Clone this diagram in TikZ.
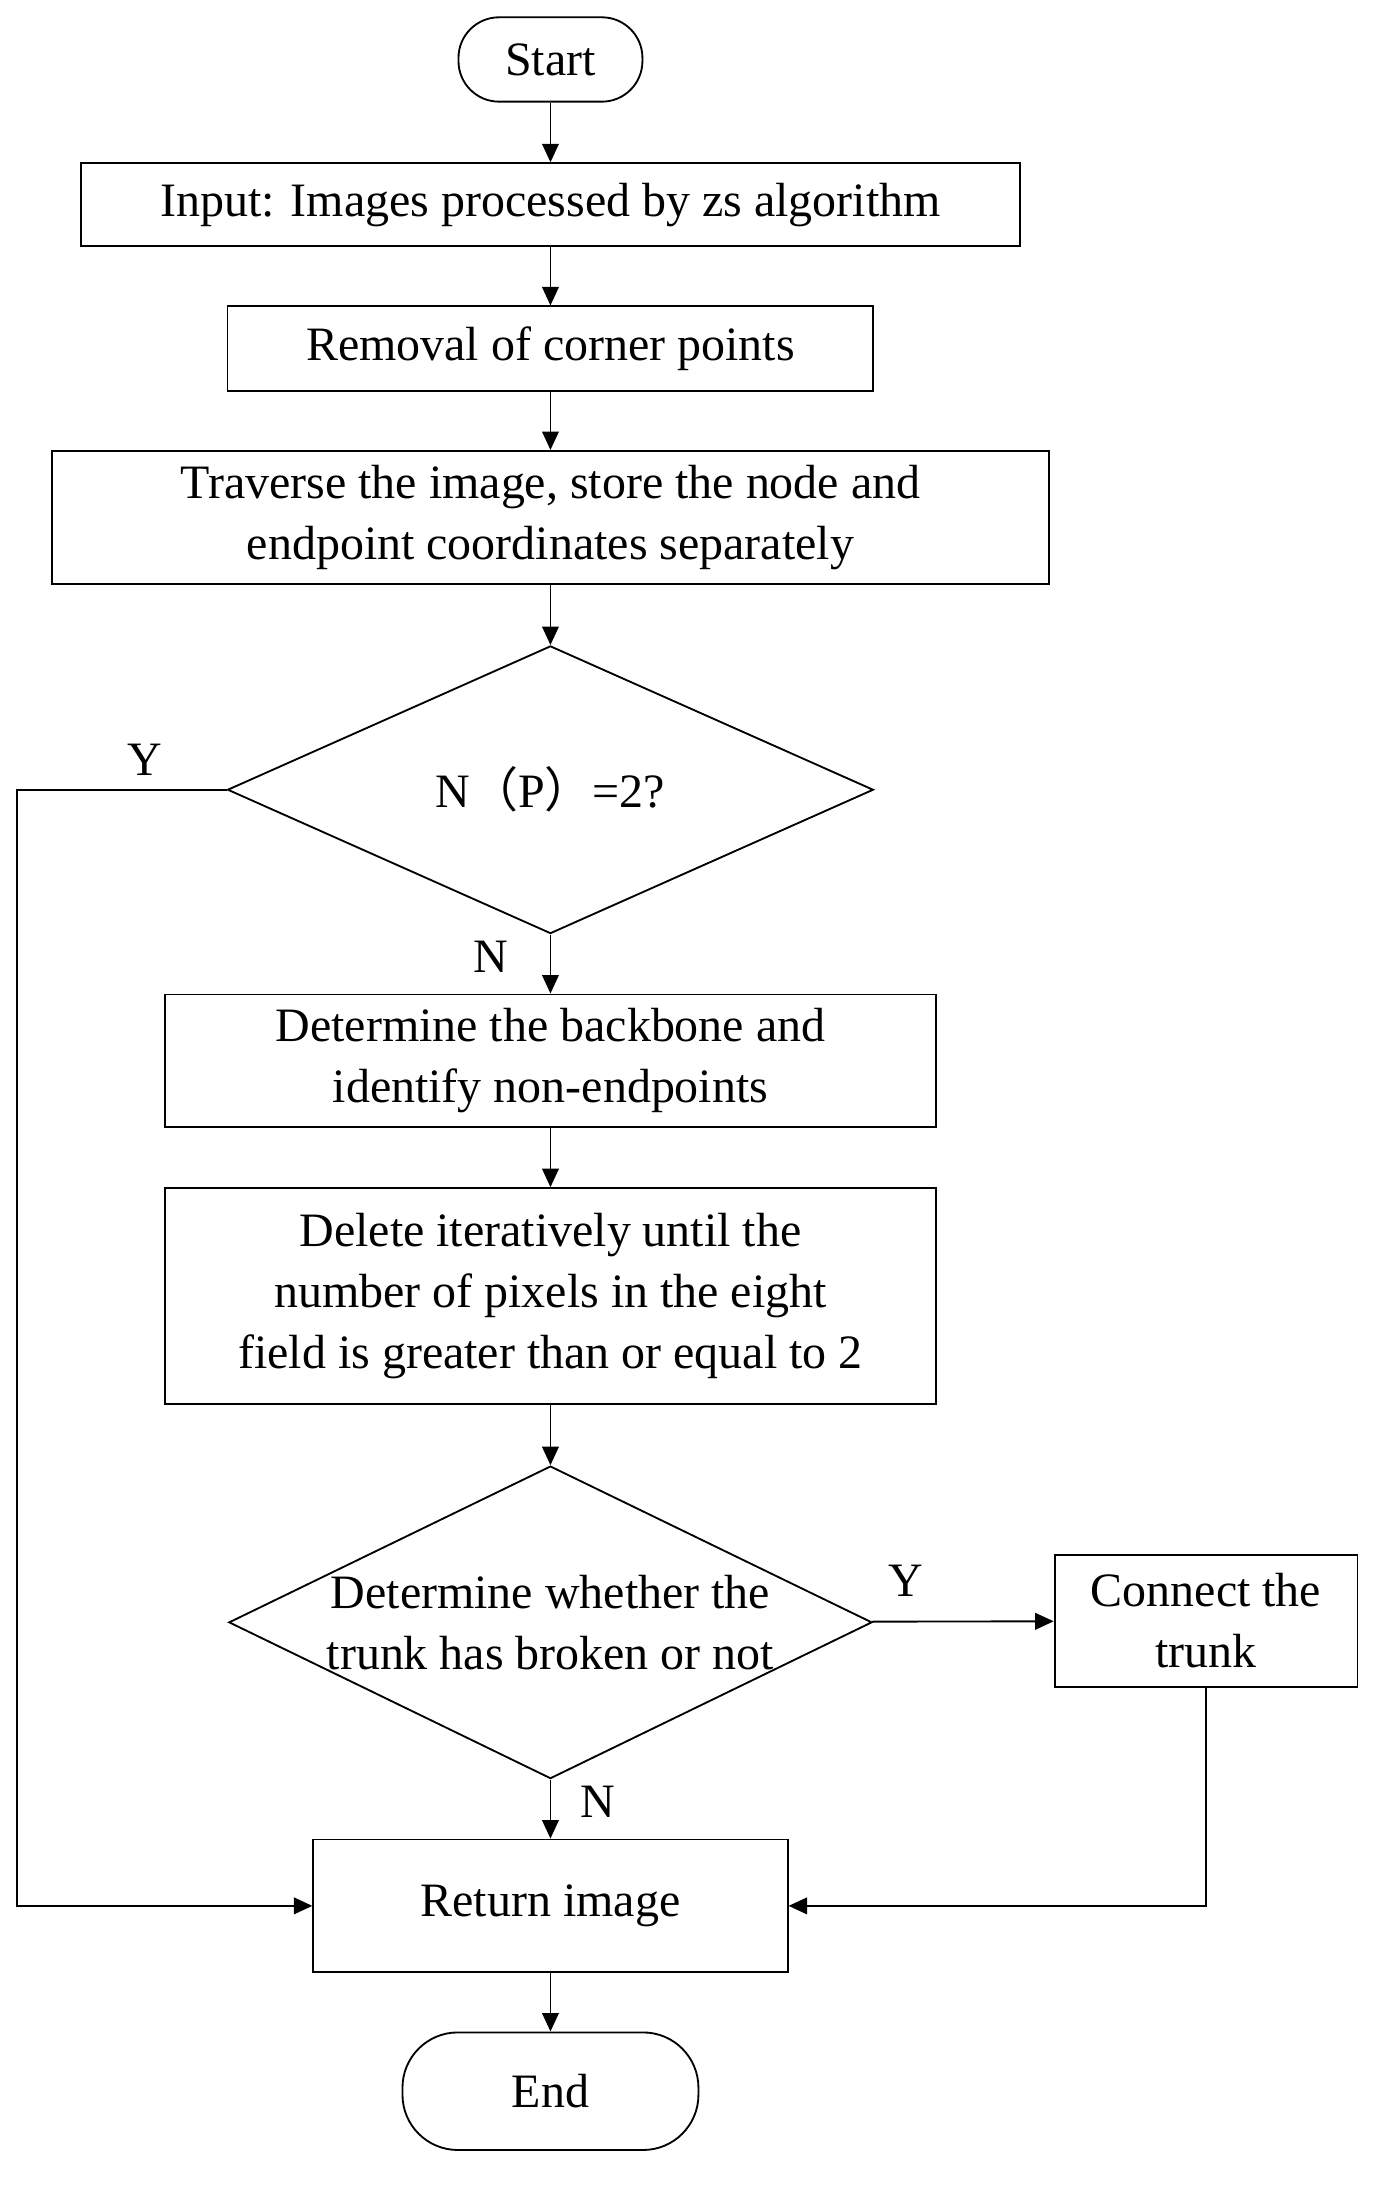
\documentclass[tikz,border=0pt]{standalone}
\usepackage{fontspec}
\setmainfont{Liberation Serif}
\newfontfamily\cjkf{Noto Sans CJK SC}
\usetikzlibrary{shapes.geometric,arrows.meta}
\begin{document}
\begin{tikzpicture}[x=0.75pt,y=-0.75pt,
  every node/.style={font=\fontsize{26}{33}\selectfont},
  box/.style={draw,line width=1pt,rectangle,inner sep=0,align=center},
  term/.style={draw,line width=1pt,inner sep=0},
  dia/.style={draw,line width=1pt,diamond,inner sep=0},
  arr/.style={-{Triangle[length=10pt,width=9pt]},line width=1pt},
  lbl/.style={inner sep=0}]
\useasboundingbox (0,0) rectangle (1000,1582);
\node[term,rounded corners=22pt,minimum width=133*0.75pt,minimum height=61*0.75pt] (start) at (398,43) {Start};
\node[box,minimum width=679*0.75pt,minimum height=60*0.75pt] (input) at (398,148) {Input: Images processed by zs algorithm};
\node[box,minimum width=467*0.75pt,minimum height=61*0.75pt] (rem) at (398,252) {Removal of corner points};
\node[box,minimum width=721*0.75pt,minimum height=96*0.75pt] (trav) at (398,374) {Traverse the image, store the node and\\endpoint coordinates separately};
\node[dia,minimum width=467*0.75pt,minimum height=208*0.75pt] (d1) at (398,571) {};
\node[lbl] at (398,571) {N{\cjkf（}P{\cjkf）}=2?};
\node[box,minimum width=557*0.75pt,minimum height=96*0.75pt] (back) at (398,767) {Determine the backbone and\\identify non-endpoints};
\node[box,minimum width=557*0.75pt,minimum height=156*0.75pt] (del) at (398,937) {Delete iteratively until the\\number of pixels in the eight\\field is greater than or equal to 2};
\node[dia,minimum width=465*0.75pt,minimum height=226*0.75pt] (d2) at (398,1173) {};
\node[lbl,align=center] at (398,1173) {Determine whether the\\trunk has broken or not};
\node[box,minimum width=219*0.75pt,minimum height=95*0.75pt] (conn) at (872,1172) {Connect the\\trunk};
\node[box,minimum width=343*0.75pt,minimum height=96*0.75pt] (ret) at (398,1378) {Return image};
\node[term,rounded corners=30pt,minimum width=214*0.75pt,minimum height=85*0.75pt] (end) at (398,1512) {End};
\coordinate (lc1) at (12,571);
\coordinate (lc2) at (12,1378);
\coordinate (rc) at (872,1378);
\draw[arr] (start) -- (input);
\draw[arr] (input) -- (rem);
\draw[arr] (rem) -- (trav);
\draw[arr] (trav) -- (d1);
\draw[arr] (d1) -- (back);
\draw[arr] (back) -- (del);
\draw[arr] (del) -- (d2);
\draw[arr] (d2) -- (conn);
\draw[arr] (d2) -- (ret);
\draw[arr] (ret) -- (end);
\draw[arr] (d1.west) -- (lc1) -- (lc2) -- (ret.west);
\draw[arr] (conn.south) -- (rc) -- (ret.east);
\node[lbl] at (105,549) {Y};
\node[lbl] at (355,692) {N};
\node[lbl] at (655,1143) {Y};
\node[lbl] at (432,1303) {N};
\end{tikzpicture}
\end{document}
